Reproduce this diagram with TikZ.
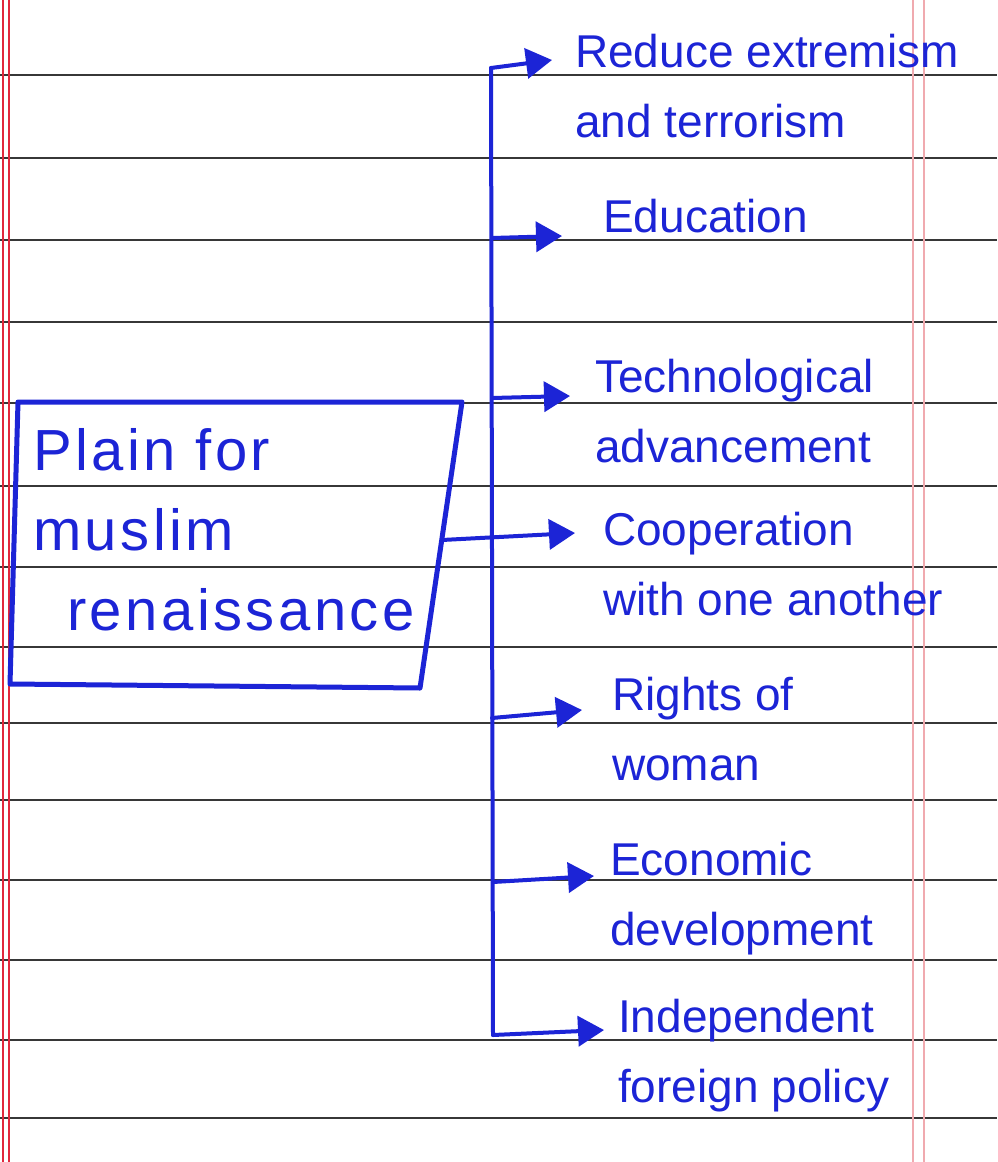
\documentclass[tikz,border=0pt]{standalone}
\usepackage{fontspec}
\setmainfont{Liberation Sans}
\usetikzlibrary{arrows.meta}
\definecolor{pen}{RGB}{28,36,214}
\definecolor{rule}{RGB}{55,55,55}
\definecolor{margin}{RGB}{225,40,60}
\definecolor{marginlight}{RGB}{240,170,175}
\tikzset{
  ruled/.style={draw=rule, line width=1.6pt},
  wire/.style={draw=pen, line width=4pt, line cap=round, line join=round},
  arr/.style={wire, -{Triangle[length=26pt,width=30pt]}},
  item/.style={text=pen, anchor=base west, align=left, inner sep=0pt,
    font=\fontsize{46}{70}\selectfont},
  boxtext/.style={text=pen, anchor=base west, align=left, inner sep=0pt,
    font=\fontsize{58}{80}\selectfont\addfontfeatures{LetterSpace=6}},
  boxline/.style={draw=pen, line width=5pt, line join=round}
}
\begin{document}
\begin{tikzpicture}[x=1pt,y=-1pt]
\useasboundingbox[fill=white] (0,0) rectangle (997,1162);
% ruled paper
\foreach \yy in {75,158,240,322,403,486,567,647,723,800,880,960,1040,1118}
  \draw[ruled] (0,\yy) -- (997,\yy);
\draw[draw=margin, line width=1.3pt] (3,0) -- (3,1162);
\draw[draw=margin, line width=1.3pt] (9,0) -- (9,1162);
\draw[draw=marginlight, line width=1.2pt] (913,0) -- (913,1162);
\draw[draw=marginlight, line width=1.2pt] (924,0) -- (924,1162);

% main box
\draw[boxline] (18,402) -- (462,402) -- (420,688) -- (10,684) -- cycle;
\node[boxtext] (box) at (33,630) {Plain for\\muslim\\\hspace*{34pt}renaissance};
\coordinate (boxout) at (442,540);

% items (anchor = baseline of last line)
\node[item] (t1) at (575,137) {Reduce extremism\\and terrorism};
\node[item] (t2) at (603,232) {Education};
\node[item] (t3) at (595,462) {Technological\\advancement};
\node[item] (t4) at (603,615) {Cooperation\\with one another};
\node[item] (t5) at (612,780) {Rights of\\woman};
\node[item] (t6) at (610,945) {Economic\\development};
\node[item] (t7) at (618,1102) {Independent\\foreign policy};

% arrow tips
\coordinate (p1) at (552,60);
\coordinate (p2) at (562,236);
\coordinate (p3) at (570,396);
\coordinate (p4) at (575,533);
\coordinate (p5) at (582,710);
\coordinate (p6) at (594,876);
\coordinate (p7) at (604,1030);

% bus
\coordinate (bt) at (491,68);
\coordinate (bb) at (493,1035);
\draw[wire] (bt) -- (bb);
\coordinate (b2) at (492,238);
\coordinate (b3) at (492,398);
\coordinate (b5) at (492,718);
\coordinate (b6) at (493,882);

\draw[arr] (bt) -- (p1);
\draw[arr] (b2) -- (p2);
\draw[arr] (b3) -- (p3);
\draw[arr] (boxout) -- (p4);
\draw[arr] (b5) -- (p5);
\draw[arr] (b6) -- (p6);
\draw[arr] (bb) -- (p7);
\end{tikzpicture}
\end{document}
